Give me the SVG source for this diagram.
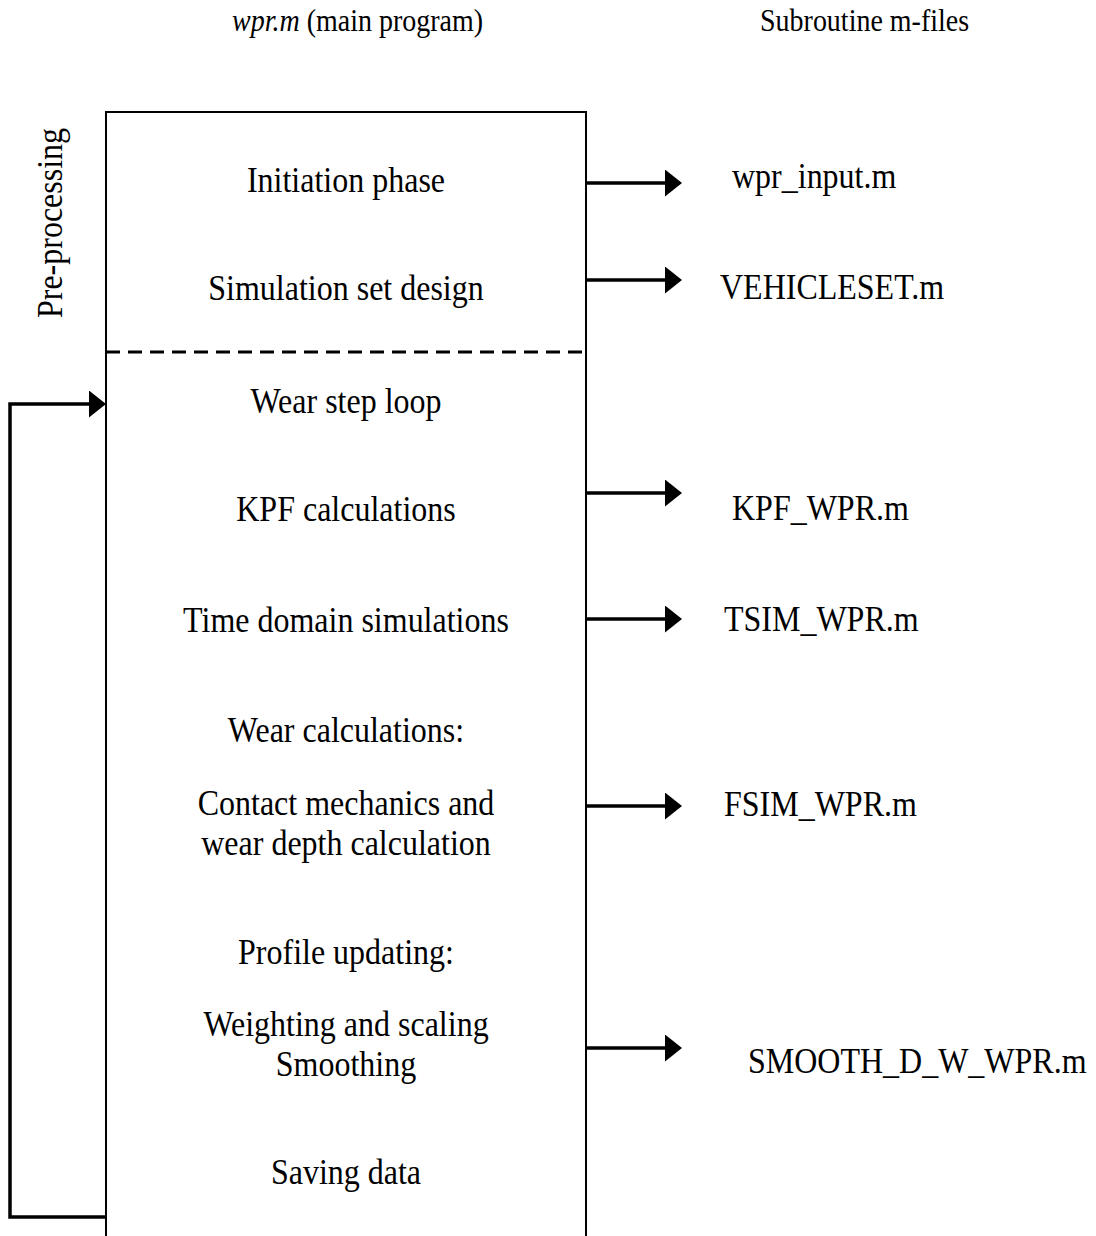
<svg xmlns="http://www.w3.org/2000/svg" width="1096" height="1236" viewBox="0 0 1096 1236">
<style>
text{font-family:"Liberation Serif","Times New Roman",serif;fill:#000}
.h{font-size:28px}
.b{font-size:32px;text-anchor:middle}
.s{font-size:32px}
.ln{stroke:#000;stroke-width:2;fill:none}
.ar{stroke:#000;stroke-width:3.5;fill:none}
</style>
<defs>
<marker id="ah" markerUnits="userSpaceOnUse" markerWidth="17" markerHeight="27" refX="3" refY="13.5" orient="auto">
<path d="M0,0 L17,13.5 L0,27 Z" fill="#000"/>
</marker>
</defs>
<rect width="1096" height="1236" fill="#fff"/>
<g id="headers">
<text class="h" transform="translate(232,31) scale(1,1.1)"><tspan font-style="italic">wpr.m</tspan> (main program)</text>
<text class="h" transform="translate(760,31) scale(1,1.1)">Subroutine m-files</text>
</g>
<g id="preproc-label">
<text class="b" transform="translate(62,223) rotate(-90) scale(1,1.1)">Pre-processing</text>
</g>
<g id="main-box">
<path class="ln" d="M106,1236 V112 H586 V1236"/>
<line x1="106" y1="352" x2="584" y2="352" stroke="#000" stroke-width="3" stroke-dasharray="14,8"/>
</g>
<g id="main-steps">
<text class="b" transform="translate(346,192) scale(1,1.1)">Initiation phase</text>
<text class="b" transform="translate(346,300) scale(1,1.1)">Simulation set design</text>
<text class="b" transform="translate(346,413) scale(1,1.1)">Wear step loop</text>
<text class="b" transform="translate(346,521) scale(1,1.1)">KPF calculations</text>
<text class="b" transform="translate(346,632) scale(1,1.1)">Time domain simulations</text>
<text class="b" transform="translate(346,742) scale(1,1.1)">Wear calculations:</text>
<text class="b" transform="translate(346,815) scale(1,1.1)">Contact mechanics and</text>
<text class="b" transform="translate(346,855) scale(1,1.1)">wear depth calculation</text>
<text class="b" transform="translate(346,964) scale(1,1.1)">Profile updating:</text>
<text class="b" transform="translate(346,1036) scale(1,1.1)">Weighting and scaling</text>
<text class="b" transform="translate(346,1076) scale(1,1.1)">Smoothing</text>
<text class="b" transform="translate(346,1184) scale(1,1.1)">Saving data</text>
</g>
<g id="subroutines">
<text class="s" transform="translate(732,188) scale(1,1.1)">wpr_input.m</text>
<text class="s" transform="translate(720,299) scale(1,1.1)">VEHICLESET.m</text>
<text class="s" transform="translate(732,520) scale(1,1.1)">KPF_WPR.m</text>
<text class="s" transform="translate(724,631) scale(1,1.1)">TSIM_WPR.m</text>
<text class="s" transform="translate(724,816) scale(1,1.1)">FSIM_WPR.m</text>
<text class="s" transform="translate(748,1073) scale(1,1.1)">SMOOTH_D_W_WPR.m</text>
</g>
<g id="connectors">
<line class="ar" x1="586" y1="183" x2="668" y2="183" marker-end="url(#ah)"/>
<line class="ar" x1="586" y1="280" x2="668" y2="280" marker-end="url(#ah)"/>
<line class="ar" x1="586" y1="493" x2="668" y2="493" marker-end="url(#ah)"/>
<line class="ar" x1="586" y1="619" x2="668" y2="619" marker-end="url(#ah)"/>
<line class="ar" x1="586" y1="806" x2="668" y2="806" marker-end="url(#ah)"/>
<line class="ar" x1="586" y1="1048" x2="668" y2="1048" marker-end="url(#ah)"/>
<path class="ar" d="M106,1217 H10 V404 H92" marker-end="url(#ah)"/>
</g>
</svg>
